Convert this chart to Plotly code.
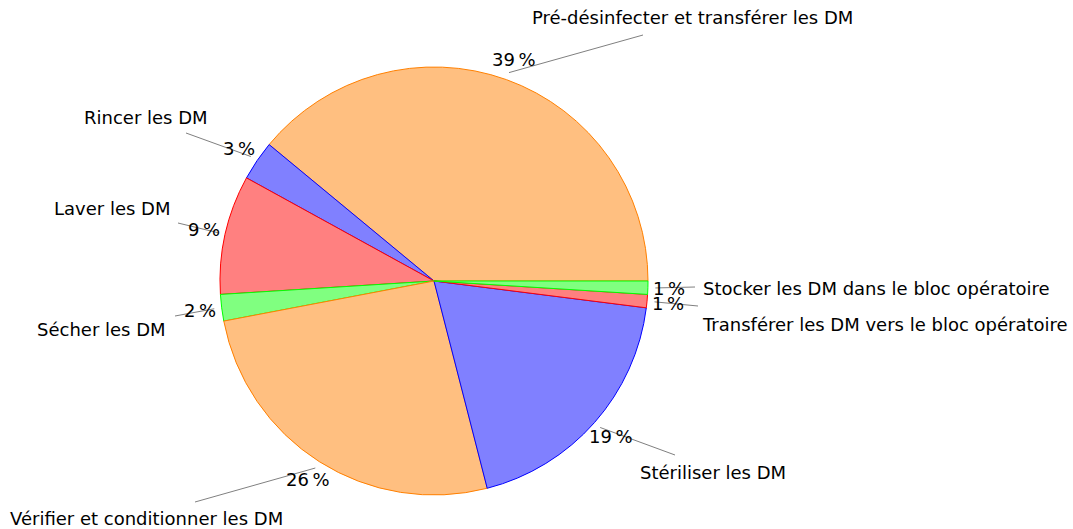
import math
import plotly.graph_objects as go

# Share of each reprocessing step (percent), counter-clockwise from 3 o'clock
steps = [
    "Pré-désinfecter et transférer les DM",
    "Rincer les DM",
    "Laver les DM",
    "Sécher les DM",
    "Vérifier et conditionner les DM",
    "Stériliser les DM",
    "Transférer les DM vers le bloc opératoire",
    "Stocker les DM dans le bloc opératoire",
]
shares = [39, 3, 9, 2, 26, 19, 1, 1]

fills = ["#FFBF80", "#8080FF", "#FF8080", "#80FF80"]
edges = ["#FF8000", "#0000FF", "#FF0000", "#00FF00"]

W, H = 1073, 529
CX, CY, R = 434, 281, 214

# Pixel positions of the step names and where their leader lines end
name_pos = [(692, 18), (146, 117), (112, 208), (101, 329),
            (146, 518), (713, 472), (885, 324), (876, 288)]
line_end = [(643, 35), (186, 133), (178, 223), (175, 316),
            (195, 502), (675, 455), (698, 306), (695, 287)]

FONT = "DejaVu Sans"
total = sum(shares)

# Plotly lays the first slice clockwise of `rotation` when drawing
# counter-clockwise, so offset it to start the first slice at 3 o'clock.
rotation = 90 - shares[0] / total * 360

fig = go.Figure(go.Pie(
    labels=steps,
    values=shares,
    sort=False,
    direction="counterclockwise",
    rotation=rotation,
    textinfo="none",
    hoverinfo="skip",
    showlegend=False,
    marker=dict(
        colors=[fills[i % 4] for i in range(len(shares))],
        line=dict(color=[edges[i % 4] for i in range(len(shares))], width=1),
    ),
    domain=dict(x=[(CX - R) / W, (CX + R) / W],
                y=[(H - CY - R) / H, (H - CY + R) / H]),
))


def px(x, y):
    return x / W, 1 - y / H


annotations = []
shapes = []
acc = 0
for i, v in enumerate(shares):
    mid = (acc + v / 2) / total * 2 * math.pi
    acc += v
    # percentage label just outside the rim
    lx = CX + 1.1 * R * math.cos(mid)
    ly = CY - 1.1 * R * math.sin(mid)
    # leader line from near the rim to the name
    sx = CX + 1.035 * R * math.cos(mid)
    sy = CY - 1.035 * R * math.sin(mid)
    ex, ey = line_end[i]
    x0, y0 = px(sx, sy)
    x1, y1 = px(ex, ey)
    shapes.append(dict(type="line", xref="paper", yref="paper",
                       x0=x0, y0=y0, x1=x1, y1=y1,
                       line=dict(color="#808080", width=1)))
    ax, ay = px(lx, ly)
    annotations.append(dict(x=ax, y=ay, xref="paper", yref="paper",
                            text=f"{v}\u2009%", showarrow=False,
                            xanchor="center", yanchor="middle",
                            font=dict(family=FONT, size=18, color="#000000")))
    nx, ny = px(*name_pos[i])
    annotations.append(dict(x=nx, y=ny, xref="paper", yref="paper",
                            text=steps[i], showarrow=False,
                            xanchor="center", yanchor="middle",
                            font=dict(family=FONT, size=18, color="#000000")))

fig.update_layout(
    width=W, height=H,
    margin=dict(l=0, r=0, t=0, b=0),
    paper_bgcolor="white",
    plot_bgcolor="white",
    annotations=annotations,
    shapes=shapes,
)

fig.write_html("out.html")
